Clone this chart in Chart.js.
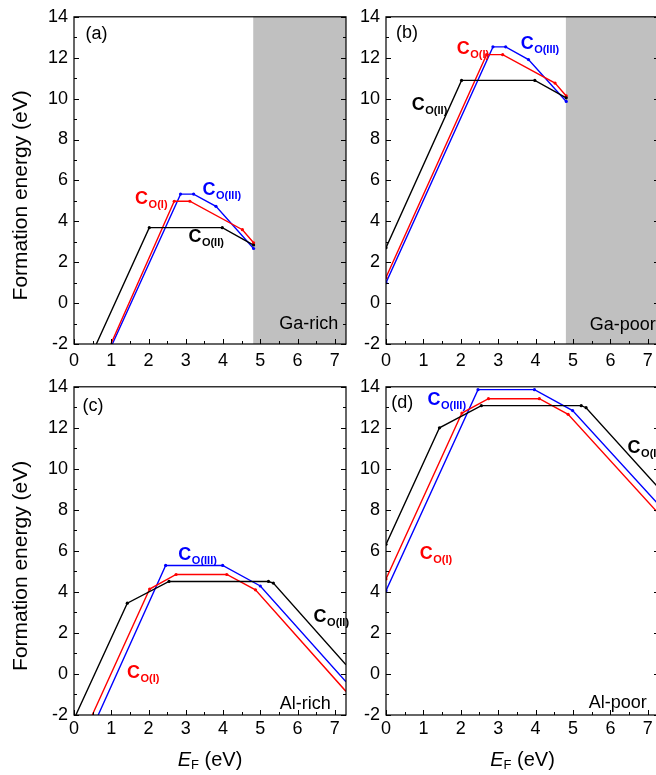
<!DOCTYPE html>
<html>
<head>
<meta charset="utf-8">
<script src="https://cdn.jsdelivr.net/npm/chart.js@4.4.1/dist/chart.umd.min.js"></script>
<style>
  html, body { margin: 0; padding: 0; background: #fff; overflow: hidden; width: 656px; height: 775px; }
  canvas { position: absolute; }
</style>
</head>
<body>
<canvas id="chartA" width="356" height="370" style="left:0;top:0"></canvas>
<canvas id="chartB" width="345" height="370" style="left:320px;top:0"></canvas>
<canvas id="chartC" width="360" height="405" style="left:0;top:370px"></canvas>
<canvas id="chartD" width="345" height="405" style="left:320px;top:370px"></canvas>
<script>
// axis ranges and ticks
var xRange = [0, 7.3];
var yRange = [-2, 14];
var xStep = 1, yStep = 2;

// (a) Ga-rich : [E_F, formation energy]
var aCoI   = [[0.99, -2], [2.69, 4.98], [3.11, 4.98], [4.52, 3.59], [4.82, 2.95]];
var aCoII  = [[0.60, -2], [2.02, 3.69], [3.98, 3.69], [4.82, 2.84]];
var aCoIII = [[1.03, -2], [2.86, 5.33], [3.21, 5.33], [3.81, 4.73], [4.82, 2.67]];

// (b) Ga-poor
var bCoI   = [[0, 1.25], [2.69, 12.15], [3.12, 12.15], [4.52, 10.76], [4.82, 10.13]];
var bCoII  = [[0, 2.71], [2.02, 10.89], [3.98, 10.89], [4.82, 10.04]];
var bCoIII = [[0, 1.00], [2.86, 12.53], [3.20, 12.53], [3.81, 11.91], [4.82, 9.86]];

// (c) Al-rich
var cCoI   = [[0.49, -2], [2.03, 4.14], [2.74, 4.85], [4.10, 4.85], [4.87, 4.10], [7.3, -0.85]];
var cCoII  = [[0.05, -2], [1.43, 3.45], [2.55, 4.51], [5.22, 4.51], [5.35, 4.43], [7.3, 0.45]];
var cCoIII = [[0.65, -2], [2.46, 5.29], [3.99, 5.29], [5.00, 4.29], [7.3, -0.38]];

// (d) Al-poor
var dCoI   = [[0, 4.63], [2.03, 12.72], [2.74, 13.42], [4.10, 13.42], [4.87, 12.66], [7.3, 7.80]];
var dCoII  = [[0, 6.32], [1.43, 12.00], [2.55, 13.08], [5.22, 13.08], [5.35, 12.98], [7.3, 9.05]];
var dCoIII = [[0, 4.06], [2.46, 13.86], [3.97, 13.86], [4.99, 12.84], [7.3, 8.24]];

var RED = '#ff0000', BLUE = '#0000ff', BLACK = '#000000', GRAY = '#c0c0c0';
var FONT = '"Liberation Sans", Arial, Helvetica, sans-serif';

function pts(arr) {
    return arr.map(function(p) { return { x: p[0], y: p[1] }; });
}

function series(arr, color) {
    return {
        data: pts(arr),
        borderColor: color,
        backgroundColor: color,
        borderWidth: 1.4,
        pointRadius: function(c) {
            var r = c.raw;
            return (r.y <= yRange[0] || r.x >= xRange[1]) ? 0 : 1.6;
        },
        pointBorderWidth: 0,
        pointBackgroundColor: color,
        tension: 0,
        fill: false
    };
}

function drawSpecies(ctx, x, y, sub, color) {
    ctx.fillStyle = color;
    ctx.textAlign = 'left';
    ctx.textBaseline = 'alphabetic';
    ctx.font = 'bold 18px ' + FONT;
    ctx.fillText('C', x, y);
    var w = ctx.measureText('C').width;
    ctx.font = 'bold 11px ' + FONT;
    ctx.fillText('O(' + sub + ')', x + w + 0.5, y + 4);
}

var decor = {
    id: 'decor',
    beforeDatasetsDraw: function(chart, args, o) {
        var ctx = chart.ctx, a = chart.chartArea, xs = chart.scales.x;
        if (o.shadeFrom != null) {
            var px = xs.getPixelForValue(o.shadeFrom);
            ctx.save();
            ctx.fillStyle = GRAY;
            ctx.fillRect(px, a.top, a.right - px, a.bottom - a.top);
            ctx.restore();
        }
    },
    afterDraw: function(chart, args, o) {
        var ctx = chart.ctx, a = chart.chartArea, xs = chart.scales.x, ys = chart.scales.y;
        ctx.save();
        // inward ticks
        ctx.strokeStyle = BLACK;
        ctx.lineWidth = 1;
        ctx.beginPath();
        for (var v = yRange[0]; v <= yRange[1]; v += 1) {
            var py = Math.round(ys.getPixelForValue(v)) + 0.5;
            var len = (v % 2 === 0) ? 5 : 3;
            ctx.moveTo(a.left, py); ctx.lineTo(a.left + len, py);
            ctx.moveTo(a.right, py); ctx.lineTo(a.right - len, py);
        }
        for (var k = 0; k * 0.5 <= xRange[1]; k++) {
            var px = Math.round(xs.getPixelForValue(k * 0.5)) + 0.5;
            var l2 = (k % 2 === 0) ? 5 : 3;
            ctx.moveTo(px, a.bottom); ctx.lineTo(px, a.bottom - l2);
        }
        ctx.stroke();
        // frame
        ctx.lineWidth = 1.2;
        ctx.strokeRect(a.left, a.top, a.right - a.left, a.bottom - a.top);

        // panel letter
        ctx.fillStyle = BLACK;
        ctx.font = '18px ' + FONT;
        ctx.textAlign = 'left';
        ctx.textBaseline = 'alphabetic';
        ctx.fillText(o.letter[0], xs.getPixelForValue(o.letter[1]), ys.getPixelForValue(o.letter[2]));
        // region label
        ctx.fillText(o.region[0], xs.getPixelForValue(o.region[1]), ys.getPixelForValue(o.region[2]));

        // species labels
        o.labels.forEach(function(L) {
            drawSpecies(ctx, xs.getPixelForValue(L[1]), ys.getPixelForValue(L[2]), L[0], L[3]);
        });

        // y title
        if (o.yTitle) {
            ctx.save();
            ctx.translate(27, (a.top + a.bottom) / 2 + 15);
            ctx.rotate(-Math.PI / 2);
            ctx.font = '21px ' + FONT;
            ctx.textAlign = 'center';
            ctx.fillStyle = BLACK;
            ctx.fillText('Formation energy (eV)', 0, 0);
            ctx.restore();
        }
        // x title: E_F (eV)
        if (o.xTitle) {
            var by = a.bottom + 51;
            ctx.font = 'italic 20px ' + FONT;
            var wE = ctx.measureText('E').width;
            ctx.font = '13px ' + FONT;
            var wF = ctx.measureText('F').width;
            ctx.font = '20px ' + FONT;
            var wR = ctx.measureText(' (eV)').width;
            var x0 = (a.left + a.right) / 2 - (wE + wF + wR) / 2;
            ctx.textAlign = 'left';
            ctx.font = 'italic 20px ' + FONT;
            ctx.fillText('E', x0, by);
            ctx.font = '13px ' + FONT;
            ctx.fillText('F', x0 + wE, by + 3);
            ctx.font = '20px ' + FONT;
            ctx.fillText(' (eV)', x0 + wE + wF, by);
        }
        ctx.restore();
    }
};

function makeChart(id, sets, yWidth, padRight, padTop, xHeight, xPad, o) {
    return new Chart(document.getElementById(id), {
        type: 'line',
        data: { datasets: sets },
        plugins: [decor],
        options: {
            responsive: false,
            animation: false,
            devicePixelRatio: 1,
            layout: { padding: { left: 0, right: padRight, top: padTop, bottom: 0 } },
            plugins: { legend: { display: false }, tooltip: { enabled: false }, decor: o },
            scales: {
                x: {
                    type: 'linear', min: xRange[0], max: xRange[1],
                    afterFit: function(s) { s.height = xHeight; },
                    grid: { display: false, drawTicks: false },
                    border: { display: false },
                    ticks: { stepSize: xStep, includeBounds: false, padding: xPad, color: BLACK,
                             maxRotation: 0, font: { size: 18, family: FONT } }
                },
                y: {
                    type: 'linear', min: yRange[0], max: yRange[1],
                    afterFit: function(s) { s.width = yWidth; },
                    grid: { display: false, drawTicks: false },
                    border: { display: false },
                    ticks: { stepSize: yStep, padding: 6, color: BLACK, font: { size: 18, family: FONT } }
                }
            }
        }
    });
}

makeChart('chartA', [series(aCoII, BLACK), series(aCoI, RED), series(aCoIII, BLUE)], 74, 10, 14, 26, 6, {
    shadeFrom: 4.81, letter: ['(a)', 0.31, 12.9], region: ['Ga-rich', 5.51, -1.25], yTitle: true, xTitle: false,
    labels: [['I', 1.64, 4.84, RED], ['III', 3.45, 5.31, BLUE], ['II', 3.07, 3.0, BLACK]]
});
makeChart('chartB', [series(bCoII, BLACK), series(bCoI, RED), series(bCoIII, BLUE)], 66, 6, 14, 26, 6, {
    shadeFrom: 4.81, letter: ['(b)', 0.27, 12.97], region: ['Ga-poor', 5.45, -1.33], yTitle: false, xTitle: false,
    labels: [['I', 1.89, 12.18, RED], ['III', 3.6, 12.43, BLUE], ['II', 0.69, 9.43, BLACK]]
});
makeChart('chartC', [series(cCoII, BLACK), series(cCoI, RED), series(cCoIII, BLUE)], 74, 14, 15, 60, 3, {
    shadeFrom: null, letter: ['(c)', 0.23, 12.8], region: ['Al-rich', 5.52, -1.71], yTitle: true, xTitle: true,
    labels: [['III', 2.8, 5.56, BLUE], ['I', 1.42, -0.22, RED], ['II', 6.43, 2.52, BLACK]]
});
makeChart('chartD', [series(dCoII, BLACK), series(dCoI, RED), series(dCoIII, BLUE)], 66, 6, 15, 60, 3, {
    shadeFrom: null, letter: ['(d)', 0.14, 12.98], region: ['Al-poor', 5.42, -1.66], yTitle: false, xTitle: true,
    labels: [['III', 1.11, 13.11, BLUE], ['I', 0.9, 5.6, RED], ['II', 6.46, 10.77, BLACK]]
});
</script>
</body>
</html>
